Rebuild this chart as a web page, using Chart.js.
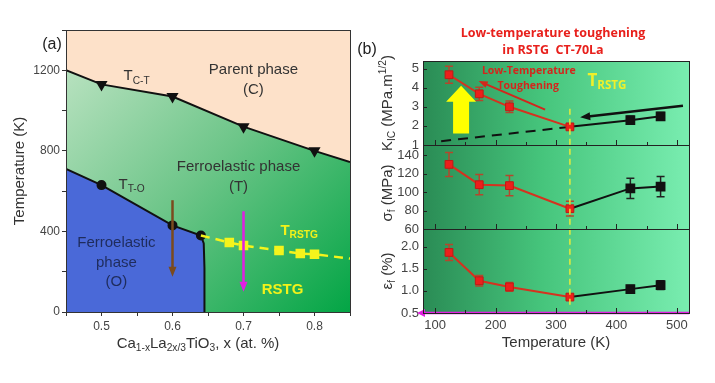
<!DOCTYPE html>
<html>
<head>
<meta charset="utf-8">
<script src="https://cdn.jsdelivr.net/npm/chart.js@4.4.1/dist/chart.umd.min.js"></script>
<style>
  body { margin: 0; background: #fff; width: 715px; height: 383px; overflow: hidden; position: relative; }
  canvas { position: absolute; top: 0; }
  #ca { left: 0; }
  #cb { left: 355px; }
</style>
</head>
<body>
<canvas id="ca" width="358" height="383"></canvas>
<canvas id="cb" width="360" height="383"></canvas>
<script>
// ---- (a) phase diagram of Ca(1-x)La(2x/3)TiO3 ----
const tctX = [0.45, 0.5, 0.6, 0.7, 0.8, 0.85];
const tctY = [1200, 1130, 1070, 920, 800, 745];
const ttoX = [0.45, 0.5, 0.6, 0.64, 0.644, 0.645, 0.645];
const ttoY = [710, 630, 430, 380, 340, 220, 0];
const rstgX = [0.64, 0.68, 0.70, 0.75, 0.78, 0.80, 0.85];
const rstgY = [380, 345, 330, 305, 290, 287, 265];
const brownPath = [[0.6, 555], [0.6, 175]];
const pinkPath = [[0.7, 500], [0.7, 100]];

// ---- (b) CT-70La properties vs temperature ----
const temps = [123, 173, 223, 323, 423, 473];
const kic = [4.68, 3.68, 3.0, 1.95, 2.3, 2.5];
const kicErr = [0.45, 0.35, 0.3, 0.1, 0.2, 0.2];
const sigma = [130, 108, 107, 82, 104, 106];
const sigmaErr = [13, 11, 11, 8, 11, 11];
const eps = [1.87, 1.23, 1.09, 0.86, 1.04, 1.13];
const epsErr = [0.18, 0.12, 0.1, 0.06, 0.08, 0.1];
const kicTrendX = [110, 323];
const kicTrendY = [1.2, 1.95];
const tRstg = 323;

const FONT = "'Liberation Sans', Arial, sans-serif";

function pts(xs, ys) { return xs.map((x, i) => ({ x: x, y: ys[i] })); }

// text with sub/superscripts: parts = [[text, 'sub'|'sup'|undefined], ...]
function rich(ctx, parts, x, y, size, color, align, weight, family) {
  const fam = family || FONT;
  const f = (s) => (weight || '') + ' ' + s + 'px ' + fam;
  let w = 0;
  parts.forEach(p => { ctx.font = f(p[1] ? size * 0.68 : size); w += ctx.measureText(p[0]).width; });
  let cx = align === 'center' ? x - w / 2 : (align === 'right' ? x - w : x);
  ctx.fillStyle = color;
  ctx.textBaseline = 'middle';
  ctx.textAlign = 'left';
  parts.forEach(p => {
    const s = p[1] ? size * 0.68 : size;
    ctx.font = f(s);
    const dy = p[1] === 'sub' ? size * 0.3 : (p[1] === 'sup' ? -size * 0.35 : 0);
    ctx.fillText(p[0], cx, y + dy);
    cx += ctx.measureText(p[0]).width;
  });
}

function arrow(ctx, x1, y1, x2, y2, color, lw, hl, hw) {
  const a = Math.atan2(y2 - y1, x2 - x1);
  const c = Math.cos(a), s = Math.sin(a);
  ctx.save();
  ctx.strokeStyle = color; ctx.fillStyle = color; ctx.lineWidth = lw;
  ctx.setLineDash([]);
  ctx.beginPath();
  ctx.moveTo(x1, y1);
  ctx.lineTo(x2 - hl * c * 0.8, y2 - hl * s * 0.8);
  ctx.stroke();
  ctx.beginPath();
  ctx.moveTo(x2, y2);
  ctx.lineTo(x2 - hl * c + hw * s, y2 - hl * s - hw * c);
  ctx.lineTo(x2 - hl * c - hw * s, y2 - hl * s + hw * c);
  ctx.closePath();
  ctx.fill();
  ctx.restore();
}

// ================= panel (a) =================
const phaseBg = {
  id: 'phaseBg',
  beforeDraw(chart) {
    const { ctx, chartArea: a } = chart;
    const g = ctx.createLinearGradient(a.left, a.top, a.right, a.bottom);
    g.addColorStop(0, '#c4e6c8');
    g.addColorStop(0.5, '#6cc588');
    g.addColorStop(1, '#03a545');
    ctx.save();
    ctx.fillStyle = g;
    ctx.fillRect(a.left, a.top, a.right - a.left, a.bottom - a.top);
    ctx.restore();
  },
  afterDraw(chart) {
    const { ctx, chartArea: a, scales: { x, y } } = chart;
    ctx.save();
    ctx.strokeStyle = '#333'; ctx.lineWidth = 1;
    ctx.strokeRect(a.left + 0.5, a.top + 0.5, a.right - a.left, a.bottom - a.top);
    // cooling paths
    arrow(ctx, x.getPixelForValue(brownPath[0][0]), y.getPixelForValue(brownPath[0][1]),
      x.getPixelForValue(brownPath[1][0]), y.getPixelForValue(brownPath[1][1]), '#7b4a1e', 2.5, 10, 4);
    arrow(ctx, x.getPixelForValue(pinkPath[0][0]), y.getPixelForValue(pinkPath[0][1]),
      x.getPixelForValue(pinkPath[1][0]), y.getPixelForValue(pinkPath[1][1]), '#e21ee2', 2.5, 10, 4);

    const px = (v) => x.getPixelForValue(v), py = (v) => y.getPixelForValue(v);
    rich(ctx, [['Parent phase']], px(0.714), py(1200), 15, '#333', 'center');
    rich(ctx, [['(C)']], px(0.714), py(1105), 15, '#333', 'center');
    rich(ctx, [['T'], ['C-T', 'sub']], px(0.531), py(1170), 15, '#333', 'left');
    rich(ctx, [['Ferroelastic phase']], px(0.693), py(720), 15, '#333', 'center');
    rich(ctx, [['(T)']], px(0.693), py(620), 15, '#333', 'center');
    rich(ctx, [['T'], ['T-O', 'sub']], px(0.524), py(632), 15, '#333', 'left');
    rich(ctx, [['Ferroelastic']], px(0.521), py(345), 15, '#1f2c5c', 'center');
    rich(ctx, [['phase']], px(0.521), py(245), 15, '#1f2c5c', 'center');
    rich(ctx, [['(O)']], px(0.521), py(150), 15, '#1f2c5c', 'center');
    rich(ctx, [['T'], ['RSTG', 'sub']], px(0.752), py(405), 15, '#f2f21a', 'left', 'bold');
    rich(ctx, [['RSTG']], px(0.755), py(110), 15, '#f2f21a', 'center', 'bold');
    // panel tag and x title
    rich(ctx, [['(a)']], 52, 45, 16, '#222', 'center');
    rich(ctx, [['Ca'], ['1-x', 'sub'], ['La'], ['2x/3', 'sub'], ['TiO'], ['3', 'sub'], [', x (at. %)']],
      198, 344, 15, '#333', 'center');
    ctx.restore();
  }
};

new Chart(document.getElementById('ca'), {
  type: 'scatter',
  data: {
    datasets: [
      {
        data: pts(rstgX, rstgY), showLine: true, fill: false,
        borderColor: '#f4f41c', borderWidth: 2.5, borderDash: [9, 6],
        pointStyle: 'rect', pointRadius: rstgX.map((v, i) => (i === 0 || i === rstgX.length - 1) ? 0 : 5),
        pointBackgroundColor: '#f4f41c', pointBorderColor: '#f4f41c'
      },
      {
        data: pts(ttoX, ttoY), showLine: true, fill: 'origin',
        backgroundColor: '#4a69d8', borderColor: '#111', borderWidth: 2,
        pointRadius: [0, 4, 4, 4, 0, 0, 0], pointBackgroundColor: '#111', pointBorderColor: '#111'
      },
      {
        data: pts(tctX, tctY), showLine: true, fill: 'end',
        backgroundColor: '#fde1c9', borderColor: '#111', borderWidth: 2,
        pointStyle: 'triangle', pointRotation: 180, pointRadius: [0, 5, 5, 5, 5, 0],
        pointBackgroundColor: '#111', pointBorderColor: '#111'
      }
    ]
  },
  options: {
    responsive: false,
    animation: false,
    layout: { padding: { left: 7, top: 30, right: 8, bottom: 25 } },
    plugins: { legend: { display: false }, tooltip: { enabled: false } },
    scales: {
      x: {
        type: 'linear', min: 0.45, max: 0.85,
        grid: { display: true, drawOnChartArea: false, drawTicks: true, tickLength: 4, color: '#333' },
        border: { color: '#333' },
        ticks: {
          stepSize: 0.05, includeBounds: false, autoSkip: false, padding: 3, color: '#444',
          font: { family: FONT, size: 12 },
          callback: (v) => Math.round(v * 100) % 10 === 0 ? (Math.round(v * 10) / 10).toFixed(1) : ''
        },
        afterFit(s) { s.height = 46; }
      },
      y: {
        min: 0, max: 1400,
        grid: { display: true, drawOnChartArea: false, drawTicks: true, tickLength: 4, color: '#333' },
        border: { color: '#333' },
        ticks: {
          stepSize: 200, includeBounds: false, autoSkip: false, padding: 2, color: '#444',
          font: { family: FONT, size: 12 },
          callback: (v) => v % 400 === 0 ? v : ''
        },
        title: { display: true, text: 'Temperature (K)', color: '#333', font: { family: FONT, size: 15 }, padding: 4 },
        afterFit(s) { s.width = 59; }
      }
    }
  },
  plugins: [phaseBg]
});

// ================= panel (b) =================
const red = '#ec1f1b', redLine = '#d5321f', redErr = '#b4472c';

function seg(ys, i0, i1) { return temps.slice(i0, i1).map((t, k) => ({ x: t, y: ys[i0 + k] })); }

function redSet(ys, errs, axis) {
  return {
    data: seg(ys, 0, 4), err: errs.slice(0, 4), errColor: redErr, yAxisID: axis,
    showLine: true, borderColor: redLine, borderWidth: 2,
    pointStyle: 'rect', pointRadius: 5.5, pointBackgroundColor: red, pointBorderColor: '#c01a16', pointBorderWidth: 1
  };
}
function blackSet(ys, errs, axis) {
  return {
    data: seg(ys, 3, 6), err: [0].concat(errs.slice(4, 6)), errColor: '#222', yAxisID: axis,
    showLine: true, borderColor: '#111', borderWidth: 2,
    pointStyle: 'rect', pointRadius: [0, 5.5, 5.5], pointBackgroundColor: '#111', pointBorderColor: '#111'
  };
}

const propsDeco = {
  id: 'propsDeco',
  beforeDraw(chart) {
    const { ctx, chartArea: a } = chart;
    const g = ctx.createLinearGradient(a.left, 0, a.right, 0);
    g.addColorStop(0, '#2a8c55');
    g.addColorStop(0.45, '#46c57c');
    g.addColorStop(1, '#79edb0');
    ctx.save();
    ctx.fillStyle = g;
    ctx.fillRect(a.left, a.top, a.right - a.left, a.bottom - a.top);
    ctx.restore();
  },
  beforeDatasetsDraw(chart) {
    const { ctx, scales } = chart;
    ctx.save();
    chart.data.datasets.forEach(ds => {
      if (!ds.err) return;
      const ys = scales[ds.yAxisID];
      ctx.strokeStyle = ds.errColor; ctx.lineWidth = 1.5;
      ds.data.forEach((p, j) => {
        const e = ds.err[j];
        if (!e) return;
        const x = scales.x.getPixelForValue(p.x);
        const y1 = ys.getPixelForValue(p.y - e), y2 = ys.getPixelForValue(p.y + e);
        ctx.beginPath();
        ctx.moveTo(x, y1); ctx.lineTo(x, y2);
        ctx.moveTo(x - 4, y1); ctx.lineTo(x + 4, y1);
        ctx.moveTo(x - 4, y2); ctx.lineTo(x + 4, y2);
        ctx.stroke();
      });
    });
    ctx.restore();
  },
  afterDatasetsDraw(chart) {
    const { ctx, chartArea: a, scales: { x, yK, yS, yE } } = chart;
    ctx.save();
    // RSTG transition temperature
    ctx.strokeStyle = '#e6ec3a'; ctx.lineWidth = 1.5; ctx.setLineDash([6, 4]);
    ctx.beginPath();
    ctx.moveTo(x.getPixelForValue(tRstg), yK.getPixelForValue(2.9));
    ctx.lineTo(x.getPixelForValue(tRstg), yE.getPixelForValue(0.62));
    ctx.stroke();
    ctx.setLineDash([]);
    // big yellow arrow
    const xa = x.getPixelForValue(143), yb = yK.getPixelForValue(1.6), yt = yK.getPixelForValue(4.1);
    ctx.fillStyle = '#ffff00';
    ctx.beginPath();
    ctx.moveTo(xa - 8, yb); ctx.lineTo(xa + 8, yb); ctx.lineTo(xa + 8, yt + 16);
    ctx.lineTo(xa + 15, yt + 16); ctx.lineTo(xa, yt); ctx.lineTo(xa - 15, yt + 16);
    ctx.lineTo(xa - 8, yt + 16); ctx.closePath(); ctx.fill();
    // trend arrows
    arrow(ctx, x.getPixelForValue(282), yK.getPixelForValue(2.85), x.getPixelForValue(172), yK.getPixelForValue(4.35), '#d3261c', 2, 9, 3.5);
    arrow(ctx, x.getPixelForValue(510), yK.getPixelForValue(3.05), x.getPixelForValue(340), yK.getPixelForValue(2.45), '#111', 2.5, 10, 4);
    // magenta cooling path along the bottom
    arrow(ctx, a.right, yE.getPixelForValue(0.5), a.left - 6, yE.getPixelForValue(0.5), '#e21ee2', 2.5, 8, 4);
    // labels
    rich(ctx, [['Low-Temperature']], x.getPixelForValue(255), yK.getPixelForValue(4.88), 10.5, '#d3261c', 'center', 'bold', "'Open Sans', sans-serif");
    rich(ctx, [['Toughening']], x.getPixelForValue(254), yK.getPixelForValue(4.1), 10.5, '#d3261c', 'center', 'bold', "'Open Sans', sans-serif");
    rich(ctx, [['T'], ['RSTG', 'sub']], x.getPixelForValue(352), yK.getPixelForValue(4.35), 17, '#f0f02a', 'left', 'bold', "'Open Sans', sans-serif");
    ctx.restore();
  },
  afterDraw(chart) {
    const { ctx, chartArea: a, scales } = chart;
    const x = scales.x;
    ctx.save();
    ctx.strokeStyle = '#222'; ctx.lineWidth = 1;
    ['yK', 'yS', 'yE'].forEach(id => {
      const s = scales[id];
      ctx.strokeRect(a.left + 0.5, s.top + 0.5, a.right - a.left, s.bottom - s.top);
      ctx.beginPath();
      s.ticks.forEach(t => {
        const py = Math.round(s.getPixelForValue(t.value)) + 0.5;
        ctx.moveTo(a.left, py); ctx.lineTo(a.left + 4, py);
      });
      x.ticks.forEach(t => {
        const px = Math.round(x.getPixelForValue(t.value)) + 0.5;
        const len = t.value % 100 === 0 ? 5 : 3;
        ctx.moveTo(px, s.bottom); ctx.lineTo(px, s.bottom - len);
      });
      ctx.stroke();
    });
    // axis titles
    const tx = 33;
    const titles = [
      ['yK', [['K'], ['IC', 'sub'], [' (MPa.m'], ['1/2', 'sup'], [')']], 0],
      ['yS', [['\u03c3'], ['f', 'sub'], [' (MPa)']], 6],
      ['yE', [['\u03b5'], ['f', 'sub'], [' (%)']], 0]
    ];
    titles.forEach(([id, parts, shift]) => {
      const s = scales[id];
      ctx.save();
      ctx.translate(tx, (s.top + s.bottom) / 2 + shift);
      ctx.rotate(-Math.PI / 2);
      rich(ctx, parts, 0, 0, 15, '#333', 'center');
      ctx.restore();
    });
    rich(ctx, [['(b)']], 12, 50, 16, '#222', 'center');
    rich(ctx, [['Low-temperature toughening']], 198, 33, 12.5, '#e8201c', 'center', 'bold', "'Open Sans', sans-serif");
    rich(ctx, [['in RSTG  CT-70La']], 198, 50, 12.5, '#e8201c', 'center', 'bold', "'Open Sans', sans-serif");
    ctx.restore();
  }
};

const yCommon = (min, max, step, fmt, weight) => ({
  type: 'linear', position: 'left', stack: 'props', stackWeight: 1, weight: weight,
  min: min, max: max,
  grid: { display: false, drawTicks: false },
  border: { display: true, color: '#222' },
  ticks: { stepSize: step, includeBounds: false, autoSkip: false, padding: 4, color: '#444', font: { family: FONT, size: 13 }, callback: fmt },
  afterFit(s) { s.width = 68; }
});

new Chart(document.getElementById('cb'), {
  type: 'scatter',
  data: {
    datasets: [
      redSet(kic, kicErr, 'yK'),
      redSet(sigma, sigmaErr, 'yS'),
      redSet(eps, epsErr, 'yE'),
      blackSet(kic, kicErr, 'yK'),
      blackSet(sigma, sigmaErr, 'yS'),
      blackSet(eps, epsErr, 'yE'),
      {
        data: pts(kicTrendX, kicTrendY), yAxisID: 'yK', showLine: true,
        borderColor: '#111', borderWidth: 2, borderDash: [10, 7], pointRadius: 0
      }
    ]
  },
  options: {
    responsive: false,
    animation: false,
    layout: { padding: { left: 0, top: 61, right: 26, bottom: 27 } },
    plugins: { legend: { display: false }, tooltip: { enabled: false } },
    scales: {
      x: {
        type: 'linear', min: 80, max: 520,
        grid: { display: false, drawTicks: false },
        border: { display: true, color: '#222' },
        ticks: {
          stepSize: 50, includeBounds: false, autoSkip: false, padding: 5, color: '#444',
          font: { family: FONT, size: 13 },
          callback: (v) => v % 100 === 0 ? v : ''
        },
        title: { display: true, text: 'Temperature (K)', color: '#333', font: { family: FONT, size: 15 }, padding: 4 },
        afterFit(s) { s.height = 43; }
      },
      yE: yCommon(0.5, 2.4, 0.5, (v) => v.toFixed(1), 1),
      yS: yCommon(60, 151, 20, (v) => v, 2),
      yK: yCommon(1, 5.4, 1, (v) => v, 3)
    }
  },
  plugins: [propsDeco]
});
</script>
</body>
</html>
